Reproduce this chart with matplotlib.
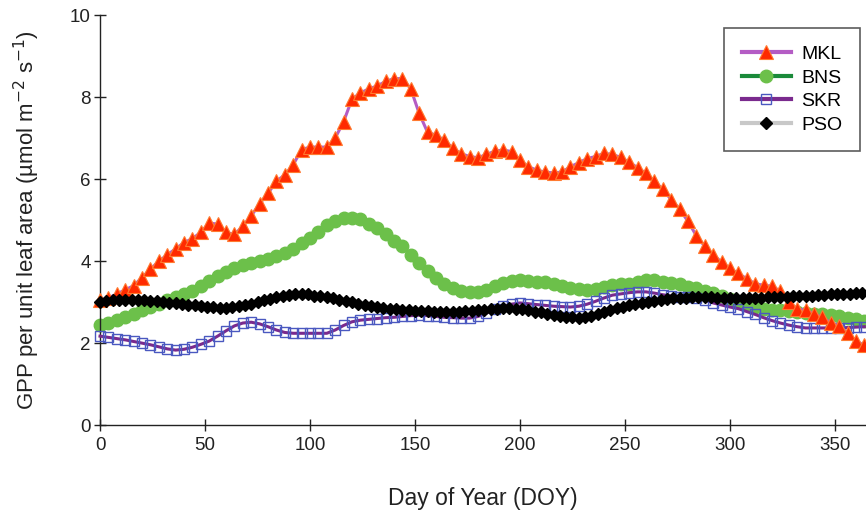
import numpy as np
import matplotlib
matplotlib.use("Agg")
import matplotlib.pyplot as plt

plt.rcParams['font.family'] = ['Liberation Sans', 'DejaVu Sans']

# day of year sampled every 4 days for MKL, BNS, SKR
doy = list(range(0, 365, 4))

mkl = [3.05, 3.1, 3.2, 3.3, 3.4, 3.6, 3.8, 4.0, 4.15, 4.3, 4.45, 4.55, 4.7, 4.93, 4.9, 4.7,
       4.65, 4.85, 5.1, 5.4, 5.65, 5.95, 6.1, 6.35, 6.72, 6.78, 6.78, 6.78, 7.0, 7.4, 7.95, 8.1,
       8.2, 8.27, 8.38, 8.45, 8.45, 8.2, 7.6, 7.14, 7.07, 6.95, 6.75, 6.62, 6.55, 6.52, 6.6, 6.68,
       6.71, 6.67, 6.46, 6.3, 6.22, 6.17, 6.15, 6.17, 6.3, 6.4, 6.5, 6.55, 6.63, 6.6, 6.53, 6.41,
       6.28, 6.14, 5.95, 5.75, 5.5, 5.27, 4.97, 4.62, 4.36, 4.15, 3.98, 3.82, 3.7, 3.57, 3.45, 3.41,
       3.39, 3.27, 3.0, 2.84, 2.8, 2.72, 2.63, 2.5, 2.42, 2.25, 2.05, 1.95]

bns = [2.45, 2.5, 2.57, 2.64, 2.71, 2.8, 2.88, 2.96, 3.04, 3.12, 3.2, 3.27, 3.4, 3.52, 3.63, 3.73,
       3.82, 3.9, 3.96, 4.0, 4.05, 4.12, 4.2, 4.3, 4.43, 4.56, 4.7, 4.88, 4.98, 5.05, 5.06, 5.02,
       4.9, 4.8, 4.66, 4.5, 4.36, 4.15, 3.95, 3.75, 3.58, 3.44, 3.34, 3.27, 3.24, 3.24, 3.3, 3.4,
       3.47, 3.52, 3.54, 3.52, 3.5, 3.49, 3.45, 3.4, 3.35, 3.31, 3.29, 3.32, 3.37, 3.41, 3.43, 3.45,
       3.5, 3.54, 3.53, 3.5, 3.47, 3.43, 3.38, 3.34, 3.28, 3.22, 3.14, 3.07, 3.0, 2.93, 2.87, 2.83,
       2.81, 2.8, 2.78, 2.76, 2.74, 2.72, 2.7, 2.68, 2.65, 2.62, 2.58, 2.55]

skr = [2.17, 2.14, 2.11, 2.08, 2.04, 2.0, 1.96, 1.91, 1.86, 1.83, 1.85, 1.9, 1.97, 2.05, 2.17, 2.3,
       2.42, 2.49, 2.51, 2.47, 2.4, 2.32, 2.26, 2.24, 2.24, 2.24, 2.24, 2.24, 2.32, 2.43, 2.52, 2.56,
       2.58, 2.6, 2.62, 2.63, 2.65, 2.67, 2.68, 2.67, 2.65, 2.63, 2.62, 2.61, 2.61, 2.65, 2.73, 2.82,
       2.9, 2.95, 2.98, 2.96, 2.94, 2.92, 2.9, 2.89, 2.88, 2.9, 2.95, 3.02, 3.1, 3.17, 3.2, 3.23,
       3.25, 3.25, 3.22, 3.18, 3.15, 3.13, 3.12, 3.1, 3.05, 2.98, 2.93, 2.88, 2.84, 2.77, 2.7, 2.62,
       2.55, 2.49, 2.44, 2.4, 2.37, 2.37, 2.37, 2.37, 2.37, 2.38, 2.39, 2.4]

# PSO sampled every 3 days
pso = [3.01, 3.03, 3.04, 3.05, 3.05, 3.05, 3.04, 3.04, 3.03, 3.02, 3.0, 2.99, 2.97, 2.96, 2.94,
       2.92, 2.9, 2.88, 2.87, 2.86, 2.86, 2.87, 2.9, 2.93, 2.96, 3.0, 3.05, 3.08, 3.12, 3.15,
       3.18, 3.2, 3.2, 3.19, 3.16, 3.14, 3.12, 3.09, 3.06, 3.03, 3.0, 2.96, 2.93, 2.9, 2.87,
       2.85, 2.84, 2.82, 2.81, 2.8, 2.79, 2.79, 2.78, 2.77, 2.77, 2.76, 2.76, 2.77, 2.78, 2.79,
       2.8, 2.81, 2.83, 2.84, 2.85, 2.85, 2.84, 2.83, 2.8, 2.77, 2.75, 2.72, 2.69, 2.67, 2.64,
       2.63, 2.62, 2.63, 2.66, 2.71, 2.77, 2.81, 2.85, 2.89, 2.92, 2.95, 2.98, 3.0, 3.03, 3.05,
       3.08, 3.09, 3.1, 3.11, 3.12, 3.12, 3.12, 3.12, 3.11, 3.11, 3.1, 3.1, 3.1, 3.1, 3.1,
       3.11, 3.12, 3.12, 3.12, 3.13, 3.14, 3.14, 3.15, 3.16, 3.17, 3.18, 3.19, 3.2, 3.2, 3.21,
       3.22, 3.23]
doy_pso = list(range(0, 3 * len(pso), 3))

xticks = [0, 50, 100, 150, 200, 250, 300, 350]
yticks = [0, 2, 4, 6, 8, 10]

fig = plt.figure(figsize=(8.66, 5.11), dpi=100)
ax = fig.add_axes([0.1155, 0.168, 0.8845, 0.8026])

h_mkl, = ax.plot(doy, mkl, color='#b45cc4', lw=2.2, marker='^', ms=9.5,
                 mfc='#ff2a00', mec='#ff7a30', mew=0.8, zorder=4, clip_on=False, label='MKL')
h_bns, = ax.plot(doy, bns, color='#1a8a3a', lw=2.2, marker='o', ms=9,
                 mfc='#6cc04a', mec='#6cc04a', zorder=2, clip_on=False, label='BNS')
h_skr, = ax.plot(doy, skr, color='#7a2a8e', lw=2.2, marker='s', ms=7,
                 mfc='none', mec='#4a58c0', mew=1.0, zorder=3, clip_on=False, label='SKR')
h_pso, = ax.plot(doy_pso, pso, color='#c8c8c8', lw=2.2, marker='D', ms=6.5,
                 mfc='black', mec='black', zorder=5, clip_on=False, label='PSO')

ax.set_xlim(0, 364.8)
ax.set_ylim(0, 10)
ax.set_xticks(xticks)
ax.set_yticks(yticks)
ax.spines['top'].set_visible(False)
ax.spines['right'].set_visible(False)
for s in ['left', 'bottom']:
    ax.spines[s].set_linewidth(1.0)
    ax.spines[s].set_color('#222222')
ax.tick_params(direction='inout', length=9, width=1.0, labelsize=13.5, colors='#222222',
               labelcolor='#222222')
ax.tick_params(axis='x', pad=4)
ax.tick_params(axis='y', pad=2)

ax.set_xlabel('Day of Year (DOY)', fontsize=16.5, labelpad=24, color='#222222')
ax.set_ylabel('GPP per unit leaf area (\u00b5mol m$^{-2}$ s$^{-1}$)', fontsize=16,
              labelpad=20, color='#222222')

leg = ax.legend(handles=[h_mkl, h_bns, h_skr, h_pso], loc='upper right',
                bbox_to_anchor=(0.992, 0.968), fontsize=14, frameon=True, fancybox=False,
                edgecolor='#333333', handlelength=2.5, borderpad=0.9, labelspacing=0.3,
                handletextpad=0.55, borderaxespad=0)
leg.get_frame().set_linewidth(1.2)
for line in leg.get_lines():
    line.set_linewidth(3.0)

fig.savefig('out.png', dpi=100)
